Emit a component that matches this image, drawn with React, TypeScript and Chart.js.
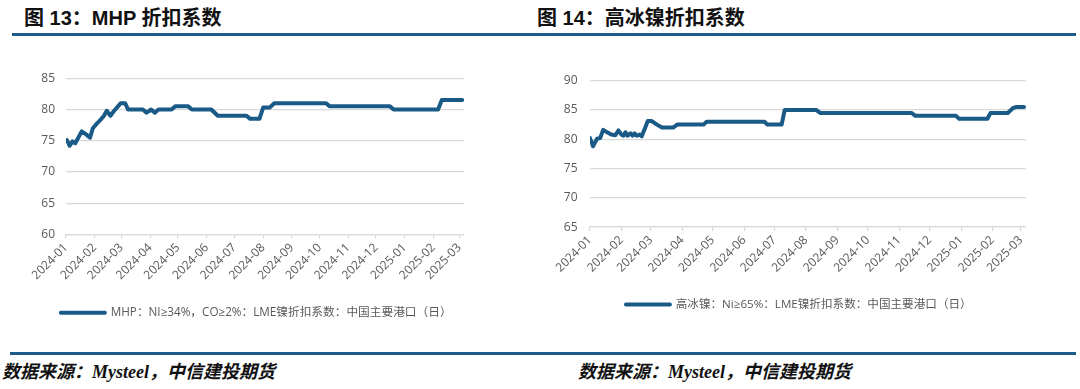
import React, { useEffect, useRef } from 'react';
import { Chart, registerables } from 'chart.js';

Chart.register(...registerables);

// ---------- data ----------
const MONTH_TICKS = [
  '2024-01', '2024-02', '2024-03', '2024-04', '2024-05', '2024-06', '2024-07', '2024-08',
  '2024-09', '2024-10', '2024-11', '2024-12', '2025-01', '2025-02', '2025-03',
];

const MHP_LABEL = 'MHP：NI≥34%，CO≥2%：LME镍折扣系数：中国主要港口（日）';
const MHP_DATES = [
  '2024-01-02', '2024-01-05', '2024-01-08', '2024-01-11', '2024-01-18', '2024-01-22',
  '2024-01-27', '2024-01-30', '2024-02-03', '2024-02-07', '2024-02-11', '2024-02-14',
  '2024-02-18', '2024-02-22', '2024-02-25', '2024-02-29', '2024-03-05', '2024-03-08',
  '2024-03-24', '2024-03-28', '2024-04-02', '2024-04-06', '2024-04-10', '2024-04-24',
  '2024-04-28', '2024-05-12', '2024-05-16', '2024-06-06', '2024-06-13', '2024-07-14',
  '2024-07-18', '2024-07-28', '2024-08-01', '2024-08-08', '2024-08-13', '2024-10-08',
  '2024-10-12', '2024-12-16', '2024-12-20', '2025-02-06', '2025-02-10', '2025-03-04',
];
const MHP_VALUES = [
  75.1, 74.2, 74.9, 74.6, 76.5, 76.1,
  75.5, 77.0, 77.7, 78.3, 79.0, 79.8,
  79.0, 79.8, 80.3, 81.0, 81.0, 80.0,
  80.0, 79.5, 80.0, 79.5, 80.0, 80.0,
  80.5, 80.5, 80.0, 80.0, 79.0, 79.0,
  78.5, 78.5, 80.3, 80.3, 81.0, 81.0,
  80.5, 80.5, 80.0, 80.0, 81.5, 81.5,
];

const HNI_LABEL = '高冰镍：Ni≥65%：LME镍折扣系数：中国主要港口（日）';
const HNI_DATES = [
  '2024-01-01', '2024-01-04', '2024-01-08', '2024-01-11', '2024-01-14', '2024-01-17',
  '2024-01-22', '2024-01-26', '2024-01-29', '2024-02-01', '2024-02-03', '2024-02-05',
  '2024-02-07', '2024-02-10', '2024-02-12', '2024-02-14', '2024-02-16', '2024-02-19',
  '2024-02-21', '2024-02-24', '2024-02-27', '2024-03-02', '2024-03-07', '2024-03-12',
  '2024-03-23', '2024-03-27', '2024-04-22', '2024-04-25', '2024-06-21', '2024-06-24',
  '2024-07-08', '2024-07-11', '2024-08-11', '2024-08-15', '2024-11-13', '2024-11-17',
  '2024-12-27', '2024-12-30', '2025-01-27', '2025-01-30', '2025-02-16', '2025-02-21',
  '2025-02-24', '2025-03-04',
];
const HNI_VALUES = [
  80.2, 78.8, 80.1, 80.2, 81.6, 81.3,
  80.8, 80.7, 81.5, 80.8, 80.6, 81.2,
  80.6, 81.0, 80.6, 81.0, 80.6, 80.8,
  80.5, 81.8, 83.1, 83.1, 82.5, 82.0,
  82.0, 82.5, 82.5, 83.0, 83.0, 82.5,
  82.5, 85.0, 85.0, 84.5, 84.5, 84.0,
  84.0, 83.5, 83.5, 84.5, 84.5, 85.3,
  85.5, 85.5,
];

const X_MAX_DATE = '2025-03-06';

// ---------- styling ----------
const LINE_COLOR = '#1A5A87';
const RULE_COLOR = '#1D5C88';
const GRID_COLOR = '#D9D9D9';
const TEXT_COLOR = '#595959';
const FONT = '"Open Sans", "Noto Sans CJK SC", sans-serif';

const dayIndex = (s: string) => {
  const [y, m, d] = s.split('-').map(Number);
  return (Date.UTC(y, m - 1, d || 1) - Date.UTC(2024, 0, 1)) / 86400000;
};

type ChartSpec = {
  dates: string[];
  values: number[];
  label: string;
  yMin: number;
  yMax: number;
  yAxisWidth: number;
  rightSpace: number;
  yPad: number;
  xHeight: number;
  legendFont: number;
  padding: { left: number; right: number; top: number; bottom: number };
};

function makeConfig(spec: ChartSpec): any {
  const points = spec.dates.map((d, i) => ({ x: dayIndex(d), y: spec.values[i] }));
  return {
    type: 'line',
    data: {
      datasets: [
        {
          label: spec.label,
          data: points,
          yAxisID: 'y',
          borderColor: LINE_COLOR,
          backgroundColor: LINE_COLOR,
          borderWidth: 4,
          pointRadius: 0,
          tension: 0,
          borderJoinStyle: 'round',
          borderCapStyle: 'round',
        },
      ],
    },
    options: {
      animation: false,
      responsive: false,
      devicePixelRatio: 1,
      layout: { padding: spec.padding },
      plugins: {
        tooltip: { enabled: false },
        legend: {
          display: true,
          position: 'bottom',
          labels: {
            boxWidth: 44,
            boxHeight: 0,
            padding: 10,
            color: TEXT_COLOR,
            font: { size: spec.legendFont, family: FONT },
          },
        },
      },
      scales: {
        x: {
          type: 'linear',
          min: 0,
          max: dayIndex(X_MAX_DATE),
          grid: {
            drawOnChartArea: false,
            drawTicks: true,
            tickLength: 4,
            color: GRID_COLOR,
            lineWidth: 1.2,
          },
          border: { display: true, color: GRID_COLOR, width: 1.2 },
          afterBuildTicks: (scale: any) => {
            scale.ticks = MONTH_TICKS.map((m) => ({ value: dayIndex(m + '-01') }));
          },
          afterFit: (scale: any) => {
            scale.height = spec.xHeight;
            scale.paddingLeft = 0;
            scale.paddingRight = 0;
          },
          ticks: {
            autoSkip: false,
            minRotation: 45,
            maxRotation: 45,
            padding: 2,
            color: TEXT_COLOR,
            font: { size: 12, family: FONT },
            callback: (_v: any, i: number) => MONTH_TICKS[i],
          },
        },
        y: {
          position: 'left',
          min: spec.yMin,
          max: spec.yMax,
          afterFit: (scale: any) => {
            scale.width = spec.yAxisWidth;
          },
          ticks: {
            stepSize: 5,
            padding: spec.yPad,
            color: TEXT_COLOR,
            font: { size: 12, family: FONT },
          },
          grid: { drawTicks: false, color: GRID_COLOR, lineWidth: 1.2 },
          border: { display: false },
        },
        // empty spacer on the right so the legend centres like the original
        spacer: {
          type: 'linear',
          position: 'right',
          display: true,
          ticks: { display: false },
          grid: { display: false, drawTicks: false },
          border: { display: false },
          afterFit: (scale: any) => {
            scale.width = spec.rightSpace;
          },
        },
      },
    },
  };
}

function LineChart(props: { spec: ChartSpec; left: number; top: number; width: number; height: number }) {
  const ref = useRef<HTMLCanvasElement | null>(null);
  useEffect(() => {
    if (!ref.current) return;
    const chart = new Chart(ref.current, makeConfig(props.spec));
    return () => chart.destroy();
  }, []);
  return (
    <canvas
      ref={ref}
      width={props.width}
      height={props.height}
      style={{ position: 'absolute', left: props.left, top: props.top, width: props.width, height: props.height }}
    />
  );
}

const titleStyle: React.CSSProperties = {
  position: 'absolute',
  top: 6,
  fontFamily: '"Liberation Sans", "Noto Sans CJK SC", sans-serif',
  fontWeight: 'bold',
  fontSize: 20,
  lineHeight: '24px',
  color: '#111',
  whiteSpace: 'nowrap',
};

const sourceStyle: React.CSSProperties = {
  position: 'absolute',
  top: 360,
  fontFamily: '"Liberation Serif", "Noto Sans CJK SC", serif',
  fontWeight: 'bold',
  fontStyle: 'italic',
  fontSize: 18,
  lineHeight: '24px',
  color: '#111',
  whiteSpace: 'nowrap',
};

export default function App() {
  const spec1: ChartSpec = {
    dates: MHP_DATES,
    values: MHP_VALUES,
    label: MHP_LABEL,
    yMin: 60,
    yMax: 85,
    yAxisWidth: 30,
    rightSpace: 12.5,
    yPad: 11,
    xHeight: 62.4,
    legendFont: 11.7,
    padding: { left: 6, right: 0.5, top: 12.7, bottom: 1.3 },
  };
  const spec2: ChartSpec = {
    dates: HNI_DATES,
    values: HNI_VALUES,
    label: HNI_LABEL,
    yMin: 65,
    yMax: 90,
    yAxisWidth: 30,
    rightSpace: 11.6,
    yPad: 12.5,
    xHeight: 61.6,
    legendFont: 11.6,
    padding: { left: 5, right: 0.4, top: 20.7, bottom: 1.7 },
  };
  return (
    <div style={{ position: 'absolute', left: 0, top: 0, width: 1080, height: 389, background: '#fff', overflow: 'hidden' }}>
      <div style={{ ...titleStyle, left: 24 }}>图 13：MHP 折扣系数</div>
      <div style={{ ...titleStyle, left: 537 }}>图 14：高冰镍折扣系数</div>
      <div style={{ position: 'absolute', left: 12, top: 33, width: 1064, height: 3, background: RULE_COLOR }} />
      <LineChart spec={spec1} left={30} top={60} width={447} height={270} />
      <LineChart spec={spec2} left={555} top={60} width={483} height={262} />
      <div style={{ position: 'absolute', left: 10, top: 352, width: 1066, height: 3, background: RULE_COLOR }} />
      <div style={{ ...sourceStyle, left: 2 }}>数据来源：Mysteel，中信建投期货</div>
      <div style={{ ...sourceStyle, left: 578 }}>数据来源：Mysteel，中信建投期货</div>
    </div>
  );
}
